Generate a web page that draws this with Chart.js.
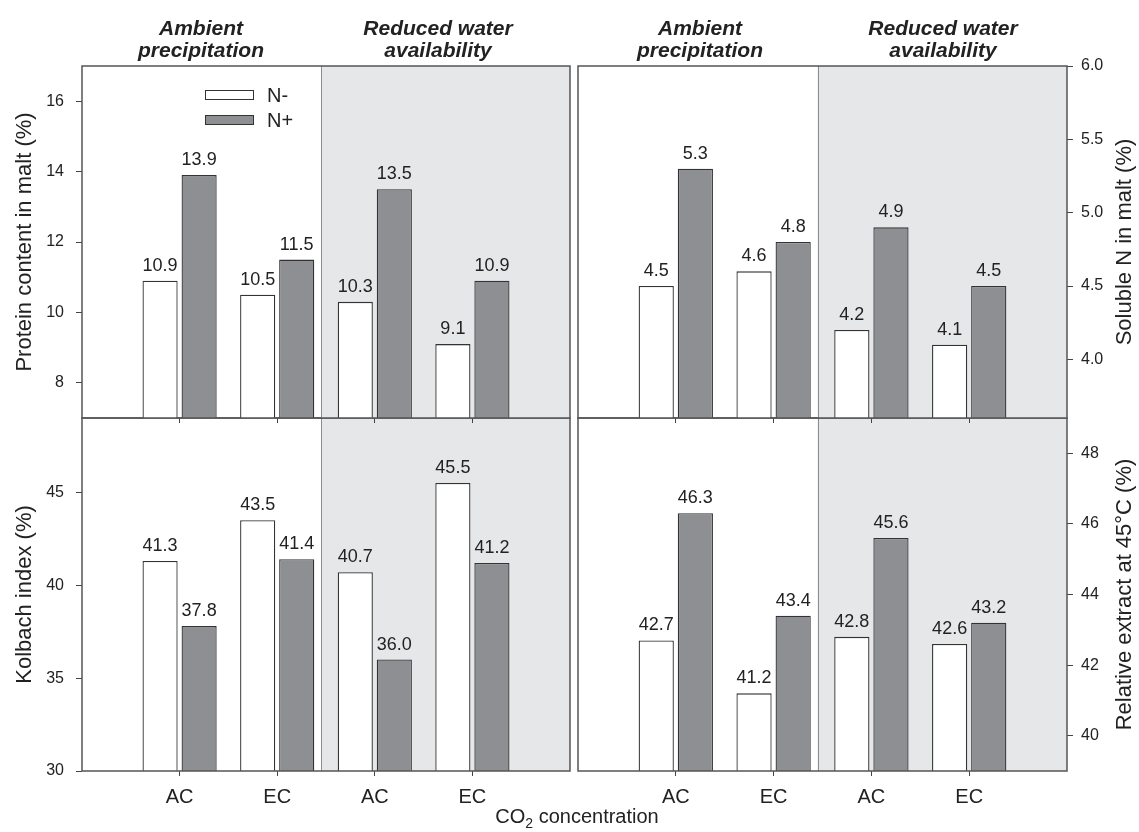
<!DOCTYPE html>
<html>
<head>
<meta charset="utf-8">
<script src="https://cdn.jsdelivr.net/npm/chart.js@4.4.0/dist/chart.umd.min.js"></script>
<style>
  body { margin: 0; background: #fff; }
  #wrap { position: relative; width: 1139px; height: 832px; font-family: 'Liberation Sans', Arial, sans-serif; color: #222; }
  canvas { position: absolute; left: 0; top: 0; }
  .hdr { position: absolute; top: 17px; width: 260px; text-align: center; font-size: 21px; line-height: 22px; font-weight: bold; font-style: italic; }
  #xtitle { position: absolute; left: 377px; width: 400px; top: 805px; text-align: center; font-size: 20px; line-height: 22px; }
  #xtitle span { font-size: 14px; position: relative; top: 5px; }
</style>
</head>
<body>
<div id="wrap">
  <canvas id="kolbach" width="1139" height="832"></canvas>
  <canvas id="extract" width="1139" height="832"></canvas>
  <canvas id="protein" width="1139" height="832"></canvas>
  <canvas id="soluble" width="1139" height="832"></canvas>
  <div class="hdr" style="left:71px">Ambient<br>precipitation</div>
  <div class="hdr" style="left:308px">Reduced water<br>availability</div>
  <div class="hdr" style="left:570px">Ambient<br>precipitation</div>
  <div class="hdr" style="left:813px">Reduced water<br>availability</div>
  <div id="xtitle">CO<span>2</span> concentration</div>
</div>
<script>
// categories and series
const xLabels = ['AC', 'EC', 'AC', 'EC'];
const seriesNames = ['N-', 'N+'];

const proteinNminus = [10.9, 10.5, 10.3, 9.1];
const proteinNplus = [13.9, 11.5, 13.5, 10.9];
const solubleNminus = [4.5, 4.6, 4.2, 4.1];
const solubleNplus = [5.3, 4.8, 4.9, 4.5];
const kolbachNminus = [41.3, 43.5, 40.7, 45.5];
const kolbachNplus = [37.8, 41.4, 36.0, 41.2];
const extractNminus = [42.7, 41.2, 42.8, 42.6];
const extractNplus = [46.3, 43.4, 45.6, 43.2];

// y tick labels
const proteinTicks = [8, 10, 12, 14, 16];
const solubleTicks = [4.0, 4.5, 5.0, 5.5, 6.0];
const kolbachTicks = [30, 35, 40, 45];
const extractTicks = [40, 42, 44, 46, 48];

const font = "'Liberation Sans', Arial, sans-serif";
const ink = '#222';
const W = 1139, H = 832;
const shadeStart = 2.45; // reduced water block starts here (category units)

function deco(cfg) {
  return {
    id: 'deco',
    beforeDatasetsDraw(chart) {
      const {ctx, chartArea: a} = chart;
      const sx = chart.scales.x.getPixelForValue(shadeStart);
      ctx.save();
      ctx.fillStyle = '#e6e7e9';
      ctx.fillRect(sx, a.top, a.right - sx, a.bottom - a.top);
      ctx.strokeStyle = '#8c8c8c';
      ctx.lineWidth = 1;
      ctx.beginPath();
      ctx.moveTo(Math.round(sx) + 0.5, a.top);
      ctx.lineTo(Math.round(sx) + 0.5, a.bottom);
      ctx.stroke();
      ctx.restore();
    },
    afterDatasetsDraw(chart) {
      const {ctx, chartArea: a} = chart;
      ctx.save();
      // value labels
      ctx.font = '18px ' + font;
      ctx.fillStyle = ink;
      ctx.textAlign = 'center';
      ctx.textBaseline = 'alphabetic';
      chart.data.datasets.forEach((ds, i) => {
        chart.getDatasetMeta(i).data.forEach((bar, j) => {
          const v = ds.data[j];
          if (v === null) return;
          ctx.fillText(v.toFixed(1), bar.x, bar.y - 10);
        });
      });
      // frame
      ctx.strokeStyle = '#555';
      ctx.lineWidth = 1.5;
      ctx.strokeRect(a.left, a.top, a.right - a.left, a.bottom - a.top);
      // y title
      ctx.translate(cfg.titleX, (a.top + a.bottom) / 2);
      ctx.rotate(-Math.PI / 2);
      ctx.font = '22px ' + font;
      ctx.textBaseline = 'middle';
      ctx.fillText(cfg.yTitle, 0, 0);
      ctx.restore();

      if (cfg.legend) {
        ctx.save();
        ctx.font = '20px ' + font;
        ctx.textBaseline = 'middle';
        chart.data.datasets.forEach((ds, i) => {
          const y = 90 + i * 25;
          ctx.fillStyle = ds.backgroundColor;
          ctx.fillRect(205, y, 49, 10);
          ctx.strokeStyle = '#333';
          ctx.lineWidth = 1;
          ctx.strokeRect(205.5, y + 0.5, 48, 9);
          ctx.fillStyle = ink;
          ctx.fillText(ds.label, 267, y + 6);
        });
        ctx.restore();
      }
    }
  };
}

function panel(id, cfg) {
  const left = cfg.side === 'left';
  const yW = left ? cfg.area.left : W - cfg.area.right;
  const xH = cfg.showX ? 40 : 10;
  return new Chart(document.getElementById(id), {
    type: 'bar',
    data: {
      labels: ['', ...xLabels, ''],
      datasets: [
        { label: seriesNames[0], data: [null, ...cfg.nMinus, null], backgroundColor: '#ffffff', borderColor: '#333', borderWidth: 1.3 },
        { label: seriesNames[1], data: [null, ...cfg.nPlus, null], backgroundColor: '#8e8f93', borderColor: '#333', borderWidth: 1.3 }
      ]
    },
    options: {
      responsive: false,
      animation: false,
      events: [],
      layout: {
        padding: {
          left: left ? 0 : cfg.area.left,
          right: left ? W - cfg.area.right : 0,
          top: cfg.area.top,
          bottom: H - cfg.area.bottom - xH
        }
      },
      plugins: { legend: { display: false }, tooltip: { enabled: false } },
      scales: {
        x: {
          offset: false,
          grid: {
            offset: false,
            drawOnChartArea: false,
            tickLength: 5,
            tickColor: c => (c.index === 0 || c.index === 5) ? 'rgba(0,0,0,0)' : '#444'
          },
          border: { display: false },
          ticks: { display: cfg.showX, color: ink, font: { family: font, size: 20 }, padding: 9, maxRotation: 0, autoSkip: false },
          afterFit: s => { s.height = xH; }
        },
        y: {
          position: cfg.side,
          min: cfg.min,
          max: cfg.max,
          grid: { drawOnChartArea: false, tickLength: 6, tickColor: '#444' },
          border: { display: false },
          ticks: {
            color: ink,
            font: { family: font, size: 16 },
            padding: left ? 12 : 8,
            callback: v => v.toFixed(cfg.decimals)
          },
          afterBuildTicks: s => { s.ticks = cfg.ticks.map(v => ({ value: v })); },
          afterFit: s => { s.width = yW; }
        }
      }
    },
    plugins: [deco(cfg)]
  });
}

panel('kolbach', {
  side: 'left', area: { left: 82, right: 570, top: 418, bottom: 771 },
  min: 30, max: 49, ticks: kolbachTicks, decimals: 0,
  nMinus: kolbachNminus, nPlus: kolbachNplus,
  yTitle: 'Kolbach index (%)', titleX: 25, showX: true
});
panel('extract', {
  side: 'right', area: { left: 578, right: 1067, top: 418, bottom: 771 },
  min: 39, max: 49, ticks: extractTicks, decimals: 0,
  nMinus: extractNminus, nPlus: extractNplus,
  yTitle: 'Relative extract at 45°C (%)', titleX: 1125, showX: true
});
panel('protein', {
  side: 'left', area: { left: 82, right: 570, top: 66, bottom: 418 },
  min: 7, max: 17, ticks: proteinTicks, decimals: 0,
  nMinus: proteinNminus, nPlus: proteinNplus,
  yTitle: 'Protein content in malt (%)', titleX: 25, showX: false, legend: true
});
panel('soluble', {
  side: 'right', area: { left: 578, right: 1067, top: 66, bottom: 418 },
  min: 3.6, max: 6.0, ticks: solubleTicks, decimals: 1,
  nMinus: solubleNminus, nPlus: solubleNplus,
  yTitle: 'Soluble N in malt (%)', titleX: 1125, showX: false
});
</script>
</body>
</html>
